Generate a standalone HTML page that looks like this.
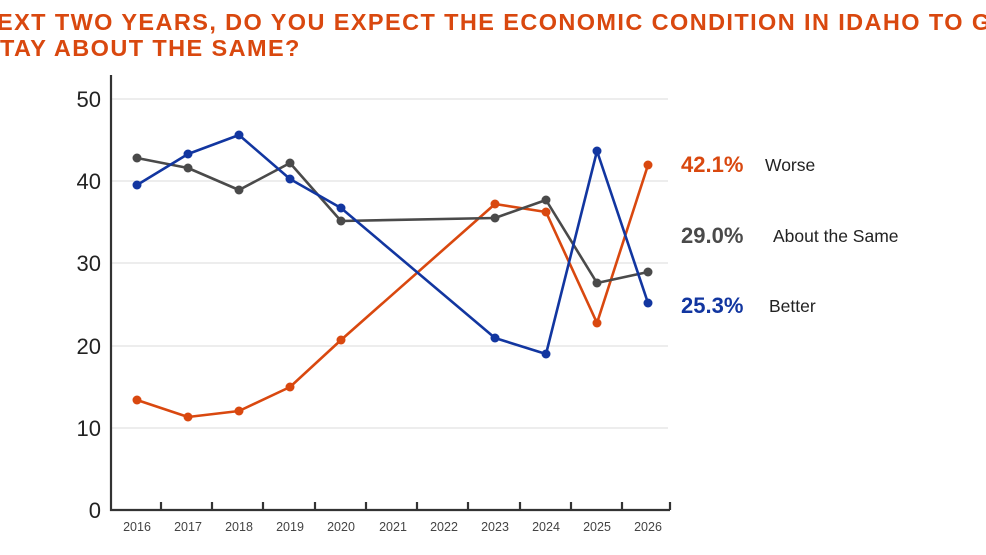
<!DOCTYPE html><html><head><style>body{margin:0;background:#fff}svg{display:block}</style></head><body>
<svg width="986" height="555" xmlns="http://www.w3.org/2000/svg" font-family="Liberation Sans, sans-serif">
<g fill="#d9480f" font-weight="bold" font-size="23.5" letter-spacing="1.4">
<text x="-3" y="30">EXT TWO YEARS, DO YOU EXPECT THE ECONOMIC CONDITION IN IDAHO TO GET BETTER</text>
<text x="0" y="56">TAY ABOUT THE SAME?</text>
</g>
<g stroke="#e2e2e2" stroke-width="1.3">
<line x1="112" x2="668" y1="99" y2="99"/><line x1="112" x2="668" y1="181" y2="181"/><line x1="112" x2="668" y1="263" y2="263"/><line x1="112" x2="668" y1="346" y2="346"/><line x1="112" x2="668" y1="428" y2="428"/>
</g>
<g stroke="#333" stroke-width="2.2" fill="none">
<path d="M111 75V510H670"/>
<path d="M161 510v-8M212 510v-8M263 510v-8M315 510v-8M366 510v-8M417 510v-8M468 510v-8M520 510v-8M571 510v-8M622 510v-8M670 510v-8"/>
</g>
<g font-size="22" fill="#222" text-anchor="end">
<text x="101" y="107">50</text><text x="101" y="189">40</text><text x="101" y="271">30</text><text x="101" y="354">20</text><text x="101" y="436">10</text><text x="101" y="518">0</text>
</g>
<g font-size="12.5" fill="#444" text-anchor="middle">
<text x="137" y="531">2016</text><text x="188" y="531">2017</text><text x="239" y="531">2018</text><text x="290" y="531">2019</text><text x="341" y="531">2020</text><text x="393" y="531">2021</text><text x="444" y="531">2022</text><text x="495" y="531">2023</text><text x="546" y="531">2024</text><text x="597" y="531">2025</text><text x="648" y="531">2026</text>
</g>
<g fill="none" stroke-width="2.6" stroke-linejoin="round">
<polyline stroke="#d9480f" points="137,400 188,417 239,411 290,387 341,340 495,204 546,212 597,323 648,165"/>
<polyline stroke="#4a4a4a" points="137,158 188,168 239,190 290,163 341,221 495,218 546,200 597,283 648,272"/>
<polyline stroke="#1236a0" points="137,185 188,154 239,135 290,179 341,208 495,338 546,354 597,151 648,303"/>
</g>
<g fill="#d9480f"><circle cx="137" cy="400" r="4.5"/><circle cx="188" cy="417" r="4.5"/><circle cx="239" cy="411" r="4.5"/><circle cx="290" cy="387" r="4.5"/><circle cx="341" cy="340" r="4.5"/><circle cx="495" cy="204" r="4.5"/><circle cx="546" cy="212" r="4.5"/><circle cx="597" cy="323" r="4.5"/><circle cx="648" cy="165" r="4.5"/></g>
<g fill="#4a4a4a"><circle cx="137" cy="158" r="4.5"/><circle cx="188" cy="168" r="4.5"/><circle cx="239" cy="190" r="4.5"/><circle cx="290" cy="163" r="4.5"/><circle cx="341" cy="221" r="4.5"/><circle cx="495" cy="218" r="4.5"/><circle cx="546" cy="200" r="4.5"/><circle cx="597" cy="283" r="4.5"/><circle cx="648" cy="272" r="4.5"/></g>
<g fill="#1236a0"><circle cx="137" cy="185" r="4.5"/><circle cx="188" cy="154" r="4.5"/><circle cx="239" cy="135" r="4.5"/><circle cx="290" cy="179" r="4.5"/><circle cx="341" cy="208" r="4.5"/><circle cx="495" cy="338" r="4.5"/><circle cx="546" cy="354" r="4.5"/><circle cx="597" cy="151" r="4.5"/><circle cx="648" cy="303" r="4.5"/></g>
<g font-size="22" font-weight="bold">
<text x="681" y="172" fill="#d9480f">42.1%</text>
<text x="681" y="243" fill="#4a4a4a">29.0%</text>
<text x="681" y="313" fill="#1236a0">25.3%</text>
</g>
<g font-size="17.5" fill="#222">
<text x="765" y="171">Worse</text>
<text x="773" y="242">About the Same</text>
<text x="769" y="312">Better</text>
</g>
</svg>
</body></html>
